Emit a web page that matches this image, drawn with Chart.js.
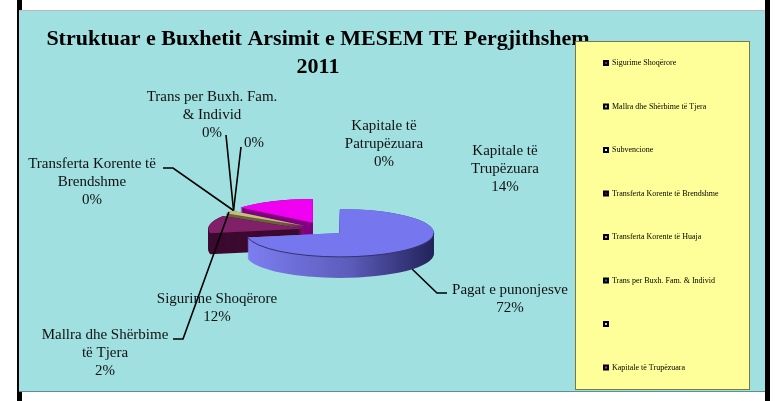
<!DOCTYPE html>
<html>
<head>
<meta charset="utf-8">
<style>
  html, body { margin: 0; background: #fff; overflow: hidden; }
  #wrap { position: relative; width: 775px; height: 401px; }
  .bar { position: absolute; background: #000; }
  #panel { position: absolute; left: 19px; top: 10px; width: 746px; height: 382px; box-sizing: border-box;
           background: #A0E0E0; border-top: 1px solid #bbb; border-bottom: 1px solid #5f8f8f; }
  canvas { position: absolute; left: 0; top: 0; }
</style>
<script src="https://cdn.jsdelivr.net/npm/chart.js@4"></script>
</head>
<body>
<div id="wrap">
  <div class="bar" style="left:17px;top:0;width:5px;height:401px"></div>
  <div class="bar" style="left:765px;top:0;width:5px;height:401px"></div>
  <div id="panel"></div>
  <canvas id="pie" width="775" height="401"></canvas>
</div>
<script>
const titleLines = ["Struktuar e Buxhetit Arsimit e MESEM TE Pergjithshem", "2011"];
const categories = [
    "Sigurime Shoqërore",
    "Mallra dhe Shërbime të Tjera",
    "Subvencione",
    "Transferta Korente të Brendshme",
    "Transferta Korente të Huaja",
    "Trans per Buxh. Fam. & Individ",
    "",
    "Kapitale të Patrupëzuara",
    "Kapitale të Trupëzuara",
    "Pagat e punonjesve"
];
const values = [12, 2, 0, 0, 0, 0, 0, 0, 14, 72];
const notInLegend = ["Kapitale të Patrupëzuara", "Pagat e punonjesve"];

// styling per slice
const topColors = ["#7F2068", "#C9BC7C", "#CCFFFF", "#660066", "#FF8080", "#0066CC", "#CCCCFF", "#000080", "#F000F0", "#7676EE"];
const sideColors = ["#3C0A30", "#6B6238", "#668080", "#330033", "#804040", "#003366", "#666680", "#000040", "#800080", "#5A5AB8"];
const explode = [24, 26, 26, 26, 26, 26, 26, 26, 31, 18];
const sideOrder = [8, 1, 0, 9]; // back to front, only the slices that have a size

// data labels: index into categories, text lines, centre x, first baseline
const labels = [
    { i: 8, lines: ["Kapitale të", "Trupëzuara"], x: 505, y: 155 },
    { i: 7, lines: ["Kapitale të", "Patrupëzuara"], x: 384, y: 130 },
    { i: 5, lines: ["Trans per Buxh. Fam.", "& Individ"], x: 212, y: 101 },
    { i: 6, lines: [], x: 254, y: 147 },
    { i: 3, lines: ["Transferta Korente të", "Brendshme"], x: 92, y: 168 },
    { i: 0, lines: ["Sigurime Shoqërore"], x: 217, y: 303 },
    { i: 1, lines: ["Mallra dhe Shërbime", "të Tjera"], x: 105, y: 339 },
    { i: 9, lines: ["Pagat e punonjesve"], x: 510, y: 294 }
];
// leader lines: fixed points next to the label, last point comes from the slice
const leaders = [
    { i: 5, pts: [[226, 135]] },
    { i: 6, pts: [[241, 147]] },
    { i: 3, pts: [[163, 168], [173, 168]] },
    { i: 1, pts: [[173, 339], [183, 339]] },
    { i: 9, pts: [[447, 293], [437, 293]], side: true }
];

const CX = 326, CY = 230, RADIUS = 94;
const SQUASH = 0.255, DEPTH = 21;
const FONT = '"Liberation Serif", "Times New Roman", serif';

function arcPos(a, i) {
    const mid = (a.startAngle + a.endAngle) / 2;
    const x = a.x + Math.cos(mid) * explode[i];
    const y = a.y + Math.sin(mid) * explode[i];
    return { x: x, y: CY + (y - CY) * SQUASH, mid: mid };
}

const pie3d = {
    id: "pie3d",
    afterLayout(chart) {
        // pie goes around a fixed centre
        const area = chart.chartArea;
        area.left = CX - RADIUS; area.right = CX + RADIUS;
        area.top = CY - RADIUS; area.bottom = CY + RADIUS;
        area.width = RADIUS * 2; area.height = RADIUS * 2;

        const pad = chart.options.plugins.legend.labels.padding;
        const lg = chart.legend;
        lg.left = 604 - pad; lg.right = 750;
        lg.top = 59 - pad; lg.bottom = 500;
    },
    afterDatasetsUpdate(chart) {
        // the built-in offset also changes radius and angle of a slice, so move them here
        chart.getDatasetMeta(0).data.forEach((a, i) => {
            a.draw = function (ctx, area) {
                const mid = (a.startAngle + a.endAngle) / 2;
                ctx.save();
                ctx.translate(Math.cos(mid) * explode[i], Math.sin(mid) * explode[i]);
                Chart.ArcElement.prototype.draw.call(a, ctx, area);
                ctx.restore();
            };
        });
    },
    beforeDraw(chart) {
        const ctx = chart.ctx;
        ctx.save();
        ctx.fillStyle = "#000";
        ctx.textAlign = "center";
        ctx.font = "bold 22px " + FONT;
        ctx.fillText(titleLines[0], 318, 45);
        ctx.fillText(titleLines[1], 318, 73);

        ctx.fillStyle = "#FFFF99";
        ctx.strokeStyle = "#77774a";
        ctx.lineWidth = 1;
        ctx.fillRect(575, 41, 174, 348);
        ctx.strokeRect(575.5, 41.5, 174, 348);
        ctx.restore();
    },
    beforeDatasetsDraw(chart) {
        const ctx = chart.ctx;
        const arcs = chart.getDatasetMeta(0).data;
        ctx.save();
        sideOrder.forEach(i => {
            const a = arcs[i];
            const p = arcPos(a, i);
            let fill = sideColors[i];
            if (i === 9) {
                fill = ctx.createLinearGradient(p.x - RADIUS, 0, p.x + RADIUS, 0);
                fill.addColorStop(0, "#7E7EF2");
                fill.addColorStop(0.55, "#5C5CBC");
                fill.addColorStop(1, "#22225A");
            }
            ctx.fillStyle = fill;
            for (let dy = DEPTH; dy >= 0; dy--) {
                ctx.beginPath();
                ctx.moveTo(p.x, p.y + dy);
                ctx.ellipse(p.x, p.y + dy, RADIUS, RADIUS * SQUASH, 0, a.startAngle, a.endAngle);
                ctx.closePath();
                ctx.fill();
            }
        });
        ctx.restore();
        // tops are drawn by the library, flattened
        ctx.save();
        ctx.translate(0, CY * (1 - SQUASH));
        ctx.scale(1, SQUASH);
    },
    afterDatasetsDraw(chart) {
        const ctx = chart.ctx;
        ctx.restore();
        const arcs = chart.getDatasetMeta(0).data;
        const total = values.reduce((s, v) => s + v, 0);

        ctx.save();
        // dark rim on the big slice
        const b = arcPos(arcs[9], 9);
        ctx.strokeStyle = "#33336e";
        ctx.lineWidth = 1;
        ctx.beginPath();
        ctx.ellipse(b.x, b.y, RADIUS, RADIUS * SQUASH, 0, 0, Math.PI * 0.94);
        ctx.stroke();

        ctx.strokeStyle = "#000";
        ctx.lineWidth = 1.6;
        leaders.forEach(l => {
            const p = arcPos(arcs[l.i], l.i);
            ctx.beginPath();
            l.pts.forEach((pt, n) => n ? ctx.lineTo(pt[0], pt[1]) : ctx.moveTo(pt[0], pt[1]));
            ctx.lineTo(p.x + Math.cos(p.mid) * RADIUS, p.y + Math.sin(p.mid) * RADIUS * SQUASH + (l.side ? DEPTH : 0));
            ctx.stroke();
        });

        ctx.fillStyle = "#111";
        ctx.textAlign = "center";
        ctx.font = "15px " + FONT;
        labels.forEach(l => {
            const pct = Math.round(values[l.i] / total * 100) + "%";
            l.lines.concat(pct).forEach((t, n) => ctx.fillText(t, l.x, l.y + n * 18));
        });
        ctx.restore();
    }
};

new Chart(document.getElementById("pie"), {
    type: "pie",
    data: {
        labels: categories,
        datasets: [{
            data: values,
            backgroundColor: topColors,
            borderWidth: 0,
            clip: false
        }]
    },
    options: {
        responsive: false,
        animation: false,
        rotation: 259.2,
        plugins: {
            tooltip: { enabled: false },
            title: { display: false },
            legend: {
                display: true,
                position: "right",
                align: "start",
                labels: {
                    boxWidth: 4,
                    boxHeight: 4,
                    padding: 35.5,
                    color: "#222",
                    font: { family: FONT, size: 8 },
                    filter: item => !notInLegend.includes(categories[item.index]),
                    generateLabels(chart) {
                        return categories.map((c, i) => ({
                            text: c,
                            index: i,
                            fillStyle: topColors[i],
                            strokeStyle: "#000",
                            lineWidth: 2,
                            hidden: false
                        }));
                    }
                }
            }
        }
    },
    plugins: [pie3d]
});
</script>
</body>
</html>
